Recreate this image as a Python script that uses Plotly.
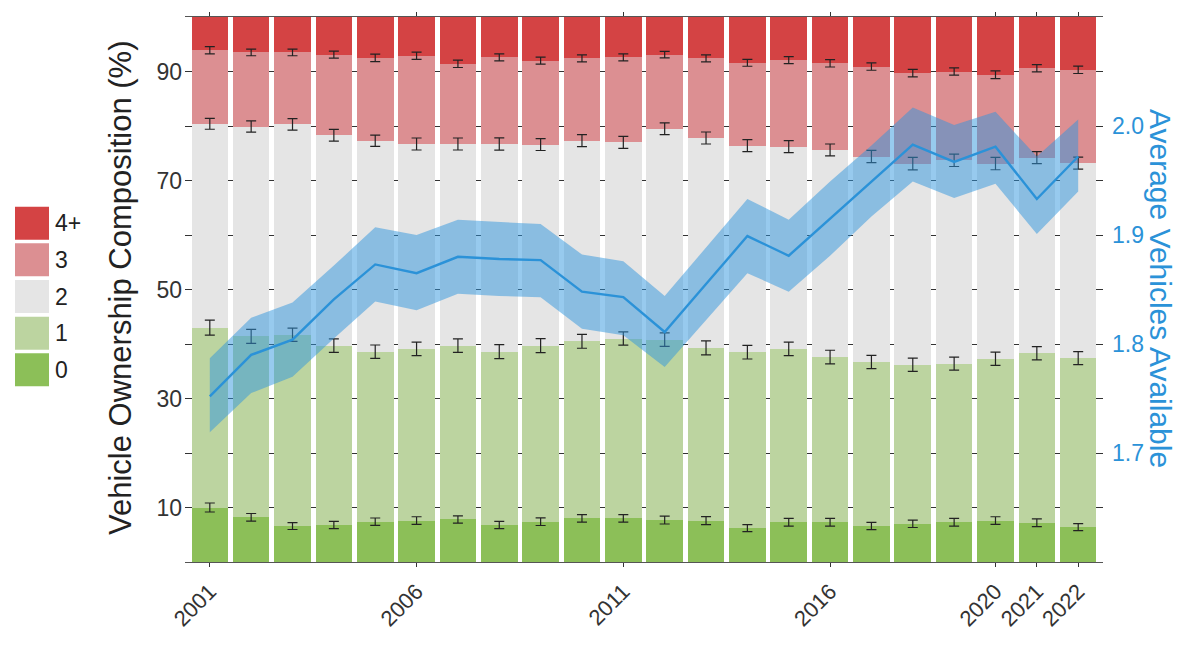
import numpy as np
import plotly.graph_objects as go

# Vehicle ownership composition by year (share of households, %)
years = list(range(2001, 2023))
categories = ['0', '1', '2', '3', '4+']

share_0 = [10.0, 8.2, 6.6, 6.8, 7.4, 7.6, 7.8, 6.8, 7.4, 8.0, 8.0,
           7.7, 7.6, 6.2, 7.3, 7.3, 6.6, 7.0, 7.3, 7.6, 7.2, 6.4]
share_1 = [33.0, 33.2, 35.1, 32.9, 31.2, 31.5, 31.9, 31.8, 32.3, 32.5, 33.0,
           33.1, 31.7, 32.3, 31.8, 30.3, 30.1, 29.2, 29.1, 29.7, 31.1, 31.0]
share_2 = [37.4, 38.5, 38.6, 38.6, 38.7, 37.6, 37.0, 38.1, 36.9, 36.8, 36.0,
           38.7, 38.5, 37.9, 37.1, 38.0, 37.7, 36.9, 37.3, 35.8, 35.9, 35.8]
share_3 = [13.5, 13.6, 13.2, 14.8, 15.2, 16.2, 14.7, 15.9, 15.4, 15.1, 15.6,
           13.6, 14.6, 15.2, 15.9, 15.9, 16.5, 16.6, 16.3, 16.3, 16.4, 17.1]
share_4 = [6.1, 6.5, 6.5, 6.9, 7.5, 7.1, 8.6, 7.4, 8.0, 7.6, 7.4,
           6.9, 7.6, 8.4, 7.9, 8.5, 9.1, 10.3, 10.0, 10.6, 9.4, 9.7]

# error bars at the top of each stacked segment
err_0 = [0.83, 0.70, 0.64, 0.67, 0.67, 0.70, 0.67, 0.67, 0.70, 0.70, 0.70,
         0.73, 0.73, 0.64, 0.70, 0.70, 0.67, 0.67, 0.70, 0.70, 0.70, 0.64]
err_1 = [1.38, 1.28, 1.22, 1.25, 1.22, 1.25, 1.25, 1.28, 1.28, 1.28, 1.22,
         1.25, 1.28, 1.25, 1.25, 1.25, 1.22, 1.22, 1.19, 1.22, 1.22, 1.19]
err_2 = [1.00, 1.04, 1.04, 1.07, 1.04, 1.10, 1.10, 1.13, 1.10, 1.10, 1.10,
         1.07, 1.10, 1.10, 1.10, 1.10, 1.13, 1.16, 1.13, 1.13, 1.10, 1.10]
err_3 = [0.67, 0.61, 0.61, 0.64, 0.67, 0.67, 0.67, 0.64, 0.64, 0.64, 0.64,
         0.61, 0.64, 0.64, 0.64, 0.67, 0.67, 0.70, 0.67, 0.70, 0.67, 0.67]

# average vehicles available, with confidence band
avg_vehicles = [1.752, 1.790, 1.804, 1.841, 1.873, 1.865, 1.880, 1.878, 1.877, 1.848, 1.843,
                1.811, 1.855, 1.899, 1.881, 1.915, 1.949, 1.983, 1.967, 1.981, 1.933, 1.972]
avg_upper = [1.787, 1.824, 1.838, 1.872, 1.907, 1.900, 1.914, 1.912, 1.910, 1.882, 1.876,
             1.844, 1.888, 1.933, 1.914, 1.949, 1.982, 2.017, 2.001, 2.013, 1.972, 2.006]
avg_lower = [1.719, 1.755, 1.770, 1.805, 1.839, 1.831, 1.846, 1.844, 1.843, 1.814, 1.808,
             1.779, 1.822, 1.865, 1.848, 1.881, 1.917, 1.949, 1.934, 1.947, 1.901, 1.940]

x_tick_years = [2001, 2006, 2011, 2016, 2020, 2021, 2022]

colors = ['#8cbf58', '#bcd4a0', '#e5e5e5', '#dc8f92', '#d44344']
shares = [share_0, share_1, share_2, share_3, share_4]
errors = [err_0, err_1, err_2, err_3]

FONT = 'Arial, Liberation Sans, sans-serif'
BLUE = '#2b92d8'
INK = '#333333'

fig = go.Figure()

for cat, vals, col in zip(categories, shares, colors):
    fig.add_trace(go.Bar(
        x=years, y=vals, name=cat, marker=dict(color=col, line=dict(width=0)),
        width=0.885, showlegend=False,
    ))

# error bars sit on the stacked boundaries; drawn after all bars so they stay whole
cum = np.cumsum(np.array(shares), axis=0)
for level, err in zip(cum[:4], errors):
    fig.add_trace(go.Scatter(
        x=years, y=level, mode='markers', marker=dict(size=1, opacity=0),
        error_y=dict(type='data', array=err, color='#222222', thickness=1.2, width=5),
        showlegend=False, hoverinfo='skip',
    ))

# band + mean line on the secondary axis
fig.add_trace(go.Scatter(
    x=years + years[::-1], y=avg_upper + avg_lower[::-1],
    fill='toself', fillcolor='rgba(48,150,222,0.5)', line=dict(width=0),
    mode='lines', yaxis='y2', showlegend=False, hoverinfo='skip',
))
fig.add_trace(go.Scatter(
    x=years, y=avg_vehicles, mode='lines', line=dict(color=BLUE, width=2.4),
    yaxis='y2', showlegend=False,
))

# the page puts the figure 8px in from the top-left corner, so work in figure pixels
OFF = 8
FIG_W, FIG_H = 1200 - OFF, 646 - OFF
L, R, T, B = 185 - OFF, 1103 - OFF, 17 - OFF, 562 - OFF
W, H = R - L, B - T


def px(x):
    return (x - OFF - L) / W


def py(y):
    return (B - (y - OFF)) / H


shapes = []
annotations = []
legend_tops = [206.7, 243.3, 280.0, 316.7, 353.3]
for cat, col, top in zip(categories[::-1], colors[::-1], legend_tops):
    shapes.append(dict(type='rect', xref='paper', yref='paper',
                       x0=px(15), x1=px(49), y0=py(top + 33), y1=py(top),
                       fillcolor=col, line=dict(width=0)))
    annotations.append(dict(xref='paper', yref='paper', x=px(53), y=py(top + 16.5),
                            text=cat, showarrow=False, xanchor='left', yanchor='middle',
                            font=dict(family=FONT, size=23, color='#222222')))

annotations.append(dict(xref='paper', yref='paper', x=px(120), y=py(288),
                        text='Vehicle Ownership Composition (%)', textangle=-90,
                        showarrow=False, xanchor='center', yanchor='middle',
                        font=dict(family=FONT, size=31, color='#222222')))
annotations.append(dict(xref='paper', yref='paper', x=px(1161), y=py(288),
                        text='Average Vehicles Available', textangle=90, showarrow=False,
                        xanchor='center', yanchor='middle',
                        font=dict(family=FONT, size=30, color=BLUE)))

fig.update_layout(
    width=FIG_W, height=FIG_H,
    margin=dict(l=L, r=FIG_W - R, t=T, b=FIG_H - B, autoexpand=False),
    barmode='stack', bargap=0,
    plot_bgcolor='white', paper_bgcolor='white',
    font=dict(family=FONT, color=INK),
    shapes=shapes, annotations=annotations,
    xaxis=dict(
        range=[2000.4, 2022.6], tickvals=x_tick_years, ticktext=[str(y) for y in x_tick_years],
        tickangle=-45, tickfont=dict(size=22, color=INK),
        ticks='outside', ticklen=4, tickcolor=INK, ticklabelstandoff=3,
        showline=True, linecolor='#555555', linewidth=1, mirror='ticks',
        showgrid=False, zeroline=False, automargin=False,
    ),
    yaxis=dict(
        range=[0, 100], tickvals=list(range(0, 101, 10)),
        ticktext=['' if v % 20 == 0 else str(v) for v in range(0, 101, 10)],
        tickfont=dict(size=23, color=INK),
        showgrid=True, gridcolor='#333333', gridwidth=1, zeroline=False,
        ticks='', ticklabelstandoff=2, automargin=False,
    ),
    yaxis2=dict(
        overlaying='y', side='right', range=[1.6, 2.1],
        tickvals=[1.7, 1.8, 1.9, 2.0], ticktext=['1.7', '1.8', '1.9', '2.0'],
        tickfont=dict(size=23, color=BLUE), showgrid=False, zeroline=False,
        ticks='', ticklabelstandoff=8, automargin=False,
    ),
)

fig.write_html("out.html")
